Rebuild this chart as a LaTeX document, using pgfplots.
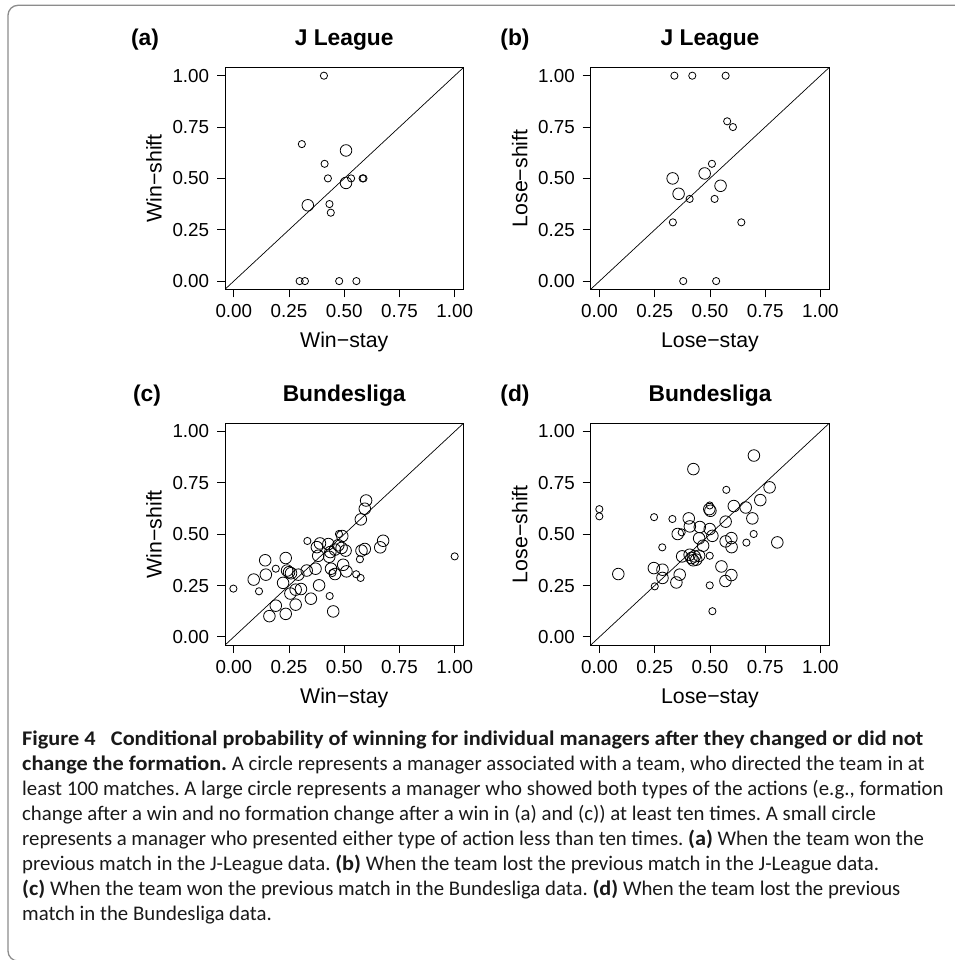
\documentclass[border=0pt]{standalone}
\usepackage{fontspec}
\setmainfont{Liberation Sans}
\newfontfamily\capfont[BoldFeatures={FakeStretch=1.07}]{Carlito}
\usepackage{pgfplots}
\usepackage{pgfplotstable}
\pgfplotsset{compat=1.18}
\newcommand{\tickfont}{\fontsize{18.8bp}{22bp}\selectfont}
\newcommand{\labfont}{\fontsize{21.3bp}{25bp}\selectfont}
\newcommand{\titfont}{\fontsize{22.8bp}{27bp}\selectfont\bfseries}
\newcommand{\cfont}{\capfont\fontsize{20.8bp}{25bp}\selectfont\frenchspacing}

\pgfplotstableread{
x y
0.408 1.000
0.308 0.667
0.411 0.571
0.426 0.500
0.531 0.500
0.583 0.500
0.587 0.500
0.433 0.375
0.439 0.333
0.298 0.000
0.322 0.000
0.477 0.000
0.555 0.000
}\aSmall
\pgfplotstableread{
x y
0.508 0.636
0.508 0.478
0.335 0.369
}\aLarge
\pgfplotstableread{
x y
0.339 1.000
0.420 1.000
0.571 1.000
0.578 0.778
0.604 0.750
0.509 0.571
0.408 0.400
0.521 0.400
0.332 0.286
0.642 0.286
0.379 0.000
0.528 0.000
}\bSmall
\pgfplotstableread{
x y
0.476 0.524
0.331 0.500
0.548 0.464
0.358 0.425
}\bLarge
\pgfplotstableread{
x y
0.599 0.664
0.593 0.624
0.575 0.572
0.676 0.468
0.663 0.436
0.593 0.428
0.578 0.420
0.491 0.491
0.390 0.455
0.428 0.452
0.376 0.437
0.473 0.446
0.488 0.433
0.506 0.420
0.458 0.425
0.437 0.413
0.382 0.395
0.432 0.390
0.440 0.332
0.458 0.306
0.495 0.351
0.510 0.319
0.370 0.332
0.330 0.323
0.235 0.384
0.142 0.373
0.145 0.303
0.090 0.279
0.241 0.323
0.250 0.315
0.259 0.310
0.292 0.303
0.223 0.263
0.256 0.211
0.280 0.230
0.304 0.233
0.386 0.251
0.349 0.186
0.280 0.157
0.190 0.152
0.235 0.112
0.161 0.101
0.450 0.124
}\cLarge
\pgfplotstableread{
x y
0.476 0.501
0.571 0.378
0.574 0.287
0.554 0.305
0.333 0.467
0.446 0.311
0.190 0.332
-0.002 0.235
0.114 0.222
0.434 0.199
1.000 0.392
}\cSmall
\pgfplotstableread{
x y
0.699 0.883
0.425 0.817
0.770 0.728
0.728 0.666
0.662 0.630
0.608 0.637
0.692 0.577
0.805 0.460
0.597 0.481
0.598 0.437
0.571 0.465
0.571 0.561
0.502 0.614
0.497 0.622
0.404 0.577
0.409 0.538
0.454 0.535
0.499 0.525
0.511 0.492
0.354 0.501
0.451 0.480
0.469 0.444
0.374 0.392
0.408 0.400
0.416 0.384
0.431 0.392
0.438 0.376
0.451 0.395
0.424 0.373
0.246 0.335
0.285 0.327
0.285 0.287
0.363 0.303
0.348 0.265
0.085 0.306
0.552 0.343
0.597 0.301
0.570 0.272
}\dLarge
\pgfplotstableread{
x y
0.574 0.716
0.499 0.640
0.698 0.501
0.665 0.459
-0.001 0.622
-0.001 0.587
0.247 0.583
0.330 0.574
0.372 0.509
0.284 0.436
0.499 0.395
0.250 0.246
0.499 0.251
0.511 0.125
}\dSmall

\pgfplotsset{
 panel/.style={
  scale only axis, width=238.5bp, height=221.8bp,
  xmin=-0.04, xmax=1.04, ymin=-0.04, ymax=1.04,
  xtick={0,0.25,0.5,0.75,1}, ytick={0,0.25,0.5,0.75,1},
  xticklabels={0.00,0.25,0.50,0.75,1.00},
  yticklabels={0.00,0.25,0.50,0.75,1.00},
  tick align=outside, xtick pos=bottom, ytick pos=left,
  major tick length=8bp,
  axis line style={line width=0.9bp, black},
  every tick/.style={black, line width=0.9bp},
  tick label style={font=\tickfont},
  xticklabel style={anchor=north, inner sep=0pt, yshift=-7bp},
  yticklabel style={anchor=east, inner sep=0pt, xshift=-7.7bp},
  every axis x label/.style={at={(rel axis cs:0.5,-0.2615)}, anchor=base, font=\labfont},
  every axis y label/.style={at={(rel axis cs:-0.2654,0.5)}, anchor=base, rotate=90, font=\labfont},
  anchor=south west,
 },
 small/.style={only marks, mark=o, mark size=3.6bp, mark options={line width=0.8bp, black}},
 large/.style={only marks, mark=o, mark size=5.8bp, mark options={line width=0.8bp, black}},
 diag/.style={black, line width=0.7bp},
}

\begin{document}
\begin{tikzpicture}[x=1bp,y=1bp]
\useasboundingbox (0,0) rectangle (955,960);
\draw[black!45, line width=1.3bp, rounded corners=10bp] (975,954.7) -- (8,954.7) -- (8,-1) -- (975,-1);
\coordinate (pa) at (225,670.7);
\coordinate (pb) at (590.7,670.7);
\coordinate (pc) at (225,314.9);
\coordinate (pd) at (590.7,314.9);

% (a)
\begin{axis}[panel, at={(pa)}, xlabel={Win−stay}, ylabel={Win−shift}]
\addplot[diag] coordinates {(-0.04,-0.04) (1.04,1.04)};
\addplot[small] table {\aSmall};
\addplot[large] table {\aLarge};
\end{axis}
% (b)
\begin{axis}[panel, at={(pb)}, xlabel={Lose−stay}, ylabel={Lose−shift}]
\addplot[diag] coordinates {(-0.04,-0.04) (1.04,1.04)};
\addplot[small] table {\bSmall};
\addplot[large] table {\bLarge};
\end{axis}
% (c)
\begin{axis}[panel, at={(pc)}, xlabel={Win−stay}, ylabel={Win−shift}]
\addplot[diag] coordinates {(-0.04,-0.04) (1.04,1.04)};
\addplot[small] table {\cSmall};
\addplot[large] table {\cLarge};
\end{axis}
% (d)
\begin{axis}[panel, at={(pd)}, xlabel={Lose−stay}, ylabel={Lose−shift}]
\addplot[diag] coordinates {(-0.04,-0.04) (1.04,1.04)};
\addplot[small] table {\dSmall};
\addplot[large] table {\dLarge};
\end{axis}

% titles
\node[anchor=base, inner sep=0] at (145,914.2) {\titfont (a)};
\node[anchor=base, inner sep=0] at (344.2,914.2) {\titfont J League};
\node[anchor=base, inner sep=0] at (515,914.2) {\titfont (b)};
\node[anchor=base, inner sep=0] at (710,914.2) {\titfont J League};
\node[anchor=base, inner sep=0] at (147,558.4) {\titfont (c)};
\node[anchor=base, inner sep=0] at (344.2,558.4) {\titfont Bundesliga};
\node[anchor=base, inner sep=0] at (515,558.4) {\titfont (d)};
\node[anchor=base, inner sep=0] at (710,558.4) {\titfont Bundesliga};

% caption
\begin{scope}[every node/.style={anchor=base west, inner sep=0, text=black!90}]
\node at (22,214.3) {\cfont\bfseries Figure 4\hspace{0.5em} Conditional probability of winning for individual managers after they changed or did not};
\node at (22,189.3) {\cfont\textbf{change the formation.} A circle represents a manager associated with a team, who directed the team in at};
\node at (22,164.3) {\cfont least 100 matches. A large circle represents a manager who showed both types of the actions (e.g., formation};
\node at (22,139.3) {\cfont change after a win and no formation change after a win in (a) and (c)) at least ten times. A small circle};
\node at (22,114.3) {\cfont represents a manager who presented either type of action less than ten times. \textbf{(a)} When the team won the};
\node at (22,89.3) {\cfont previous match in the J-League data. \textbf{(b)} When the team lost the previous match in the J-League data.};
\node at (22,64.3) {\cfont \textbf{(c)} When the team won the previous match in the Bundesliga data. \textbf{(d)} When the team lost the previous};
\node at (22,39.3) {\cfont match in the Bundesliga data.};
\end{scope}
\end{tikzpicture}
\end{document}
